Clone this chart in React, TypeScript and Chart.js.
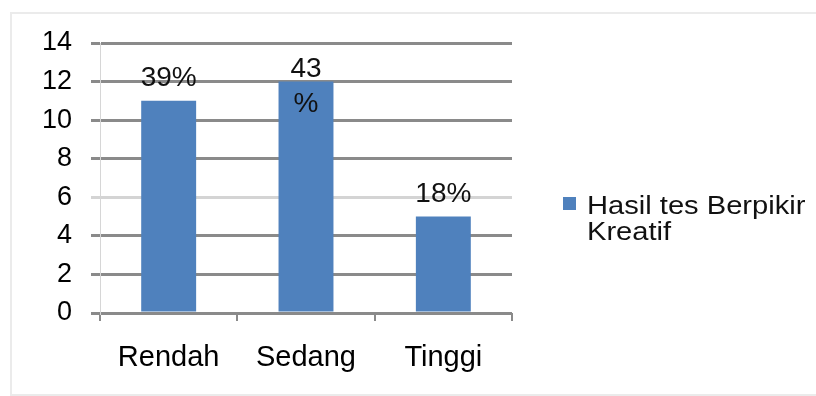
import React, { useEffect, useRef } from "react";
import { Chart, registerables } from "chart.js";

Chart.register(...registerables);

// Scores per creativity level
const categories = ["Rendah", "Sedang", "Tinggi"];
const scores = [11, 12, 5];
const seriesName = "Hasil tes Berpikir Kreatif";
const legendLines = ["Hasil tes Berpikir", "Kreatif"];
const yMin = 0;
const yMax = 14;
const yStep = 2;
// the middle percentage label breaks onto two lines
const wrappedLabel = [false, true, false];

const FONT = "'Liberation Sans', Arial, sans-serif";
const BAR_COLOR = "#4f81bd";
const GRID_COLOR = "#8a8a8a";

const total = scores.reduce((a, b) => a + b, 0);

const barLabels = {
  id: "barLabels",
  afterDatasetsDraw(chart: any) {
    const ctx = chart.ctx;
    const meta = chart.getDatasetMeta(0);
    ctx.save();
    ctx.font = `28px ${FONT}`;
    ctx.fillStyle = "#111";
    ctx.textAlign = "center";
    ctx.textBaseline = "alphabetic";
    meta.data.forEach((bar: any, i: number) => {
      const pct = `${Math.round((scores[i] / total) * 100)}`;
      const { x, y } = bar.getProps(["x", "y"], true);
      if (wrappedLabel[i]) {
        ctx.fillText(pct, x, y - 5);
        ctx.fillText("%", x, y + 30);
      } else {
        ctx.fillText(pct + "%", x, y - 15);
      }
    });
    ctx.restore();
  },
};

const sideLegend = {
  id: "sideLegend",
  afterDraw(chart: any) {
    const ctx = chart.ctx;
    const left = chart.chartArea.right + 51;
    ctx.save();
    ctx.fillStyle = BAR_COLOR;
    ctx.fillRect(left, 197, 13, 13);
    ctx.fillStyle = "#111";
    ctx.font = `26px ${FONT}`;
    ctx.textAlign = "left";
    ctx.textBaseline = "alphabetic";
    legendLines.forEach((line, i) => {
      ctx.save();
      ctx.translate(left + 24, 214 + i * 26);
      ctx.scale(1.12, 1);
      ctx.fillText(line, 0, 0);
      ctx.restore();
    });
    ctx.restore();
  },
};

export default function App() {
  const canvasRef = useRef<HTMLCanvasElement>(null);

  useEffect(() => {
    document.body.style.margin = "0";
    const canvas = canvasRef.current;
    if (!canvas) return;
    const chart = new Chart(canvas, {
      type: "bar",
      data: {
        labels: categories,
        datasets: [
          {
            label: seriesName,
            data: scores,
            backgroundColor: BAR_COLOR,
            borderWidth: 0,
            categoryPercentage: 1,
            barPercentage: 0.4,
          },
        ],
      },
      options: {
        responsive: false,
        animation: false,
        devicePixelRatio: 1,
        layout: { padding: { left: 0, right: 304, top: 43, bottom: 0 } },
        plugins: {
          legend: { display: false },
          tooltip: { enabled: false },
          title: { display: false },
        },
        scales: {
          x: {
            grid: {
              offset: true,
              drawOnChartArea: false,
              drawTicks: true,
              tickLength: 8,
              color: GRID_COLOR,
              lineWidth: 2,
            },
            border: { display: false },
            ticks: {
              font: { family: FONT, size: 29 },
              color: "#000",
              padding: 20,
            },
            afterFit: (s: any) => {
              s.height = 83;
            },
          },
          y: {
            min: yMin,
            max: yMax,
            ticks: {
              stepSize: yStep,
              font: { family: FONT, size: 27 },
              color: "#000",
              padding: 19,
            },
            grid: {
              color: (c: any) => (c.tick && c.tick.value === 6 ? "#d4d4d4" : GRID_COLOR),
              lineWidth: 3,
              tickLength: 9,
              drawTicks: true,
            },
            border: { display: true, color: "#d6d6d6", width: 1, z: -1 },
            afterFit: (s: any) => {
              s.width = 100;
            },
          },
        },
      },
      plugins: [barLabels, sideLegend],
    });
    return () => chart.destroy();
  }, []);

  return (
    <div
      style={{
        position: "fixed",
        left: 0,
        top: 0,
        width: 816,
        height: 396,
        overflow: "hidden",
        background: "#fff",
      }}
    >
      <div
        style={{
          position: "absolute",
          left: 10,
          top: 12,
          width: 1200,
          height: 380,
          borderLeft: "2px solid #ebebeb",
          borderTop: "2px solid #ebebeb",
          borderBottom: "2px solid #ebebeb",
        }}
      />
      <canvas
        ref={canvasRef}
        width={816}
        height={396}
        style={{ position: "absolute", left: 0, top: 0 }}
      />
    </div>
  );
}
